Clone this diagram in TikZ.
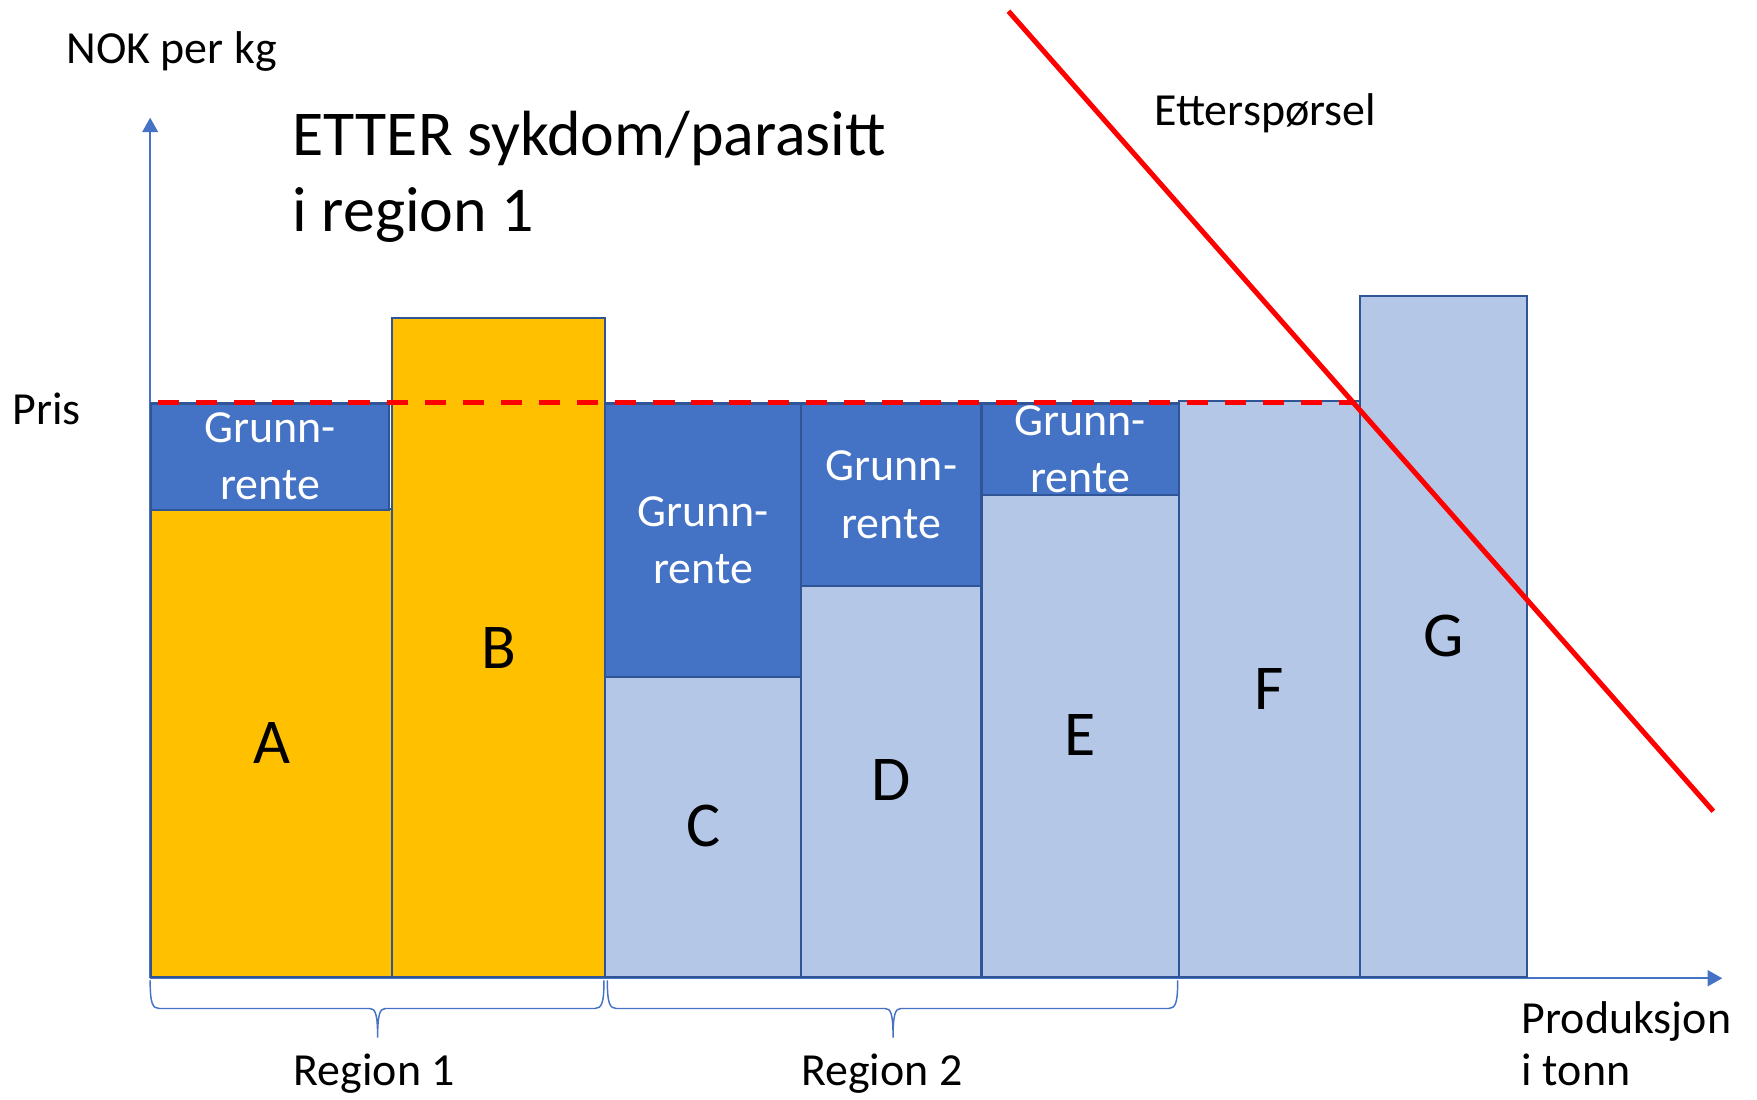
\documentclass[tikz,border=0pt]{standalone}
\usepackage{fontspec}
\setmainfont{Carlito}
\usetikzlibrary{arrows.meta}
\definecolor{gold}{HTML}{FFC000}
\definecolor{rentblue}{HTML}{4472C4}
\definecolor{paleblue}{HTML}{B4C7E7}
\definecolor{edgeblue}{HTML}{2F5597}

\begin{document}
\begin{tikzpicture}[x=1pt,y=-1pt,>={Triangle[length=13pt,width=14pt]},
   axis/.style={draw=rentblue,line width=2pt},
   bar/.style={draw=edgeblue,line width=2pt,inner sep=0pt,anchor=south west,
               font=\fontsize{57}{60}\selectfont},
   rent/.style={bar,fill=rentblue,anchor=north west,text=white,align=center,
                font=\fontsize{41}{51}\selectfont},
   txt/.style={anchor=base west,inner sep=0pt,font=\fontsize{41}{48}\selectfont},
   bigtxt/.style={txt,font=\fontsize{57}{68}\selectfont},
   brace/.style={draw=rentblue,line width=1.3pt}]
   \useasboundingbox (0,0) rectangle (1568,981);

   % axes
   \coordinate (O)    at (134,873);
   \coordinate (ytop) at (134,105);
   \coordinate (xend) at (1537,873);
   \draw[axis,->] (O) -- (ytop);
   \draw[axis,->] (O) -- (xend);

   % region 1
   \node[bar,fill=gold,minimum width=215pt,minimum height=418pt] (A) at (134,873) {A};
   \node[rent,minimum width=212pt,minimum height=95pt]           (rA) at (134,359) {Grunn-\\rente};
   \node[bar,fill=gold,minimum width=190pt,minimum height=588pt] (B) at (349,873) {B};

   % region 2
   \node[bar,fill=paleblue,minimum width=175pt,minimum height=270pt] (C) at (539,873) {C};
   \node[rent,minimum width=175pt,minimum height=244pt]              (rC) at (539,359) {Grunn-\\rente};
   \node[bar,fill=paleblue,minimum width=161pt,minimum height=351pt] (D) at (714,873) {D};
   \node[rent,minimum width=161pt,minimum height=163pt]              (rD) at (714,359) {Grunn-\\rente};
   \node[bar,fill=paleblue,minimum width=176pt,minimum height=432pt] (E) at (875,873) {E};
   \node[rent,minimum width=176pt,minimum height=82pt]               (rE) at (875,359) {Grunn-\\rente};

   % outside
   \node[bar,fill=paleblue,minimum width=162pt,minimum height=514pt] (F) at (1051,873) {F};
   \node[bar,fill=paleblue,minimum width=149pt,minimum height=608pt] (G) at (1213,873) {G};

   % price and demand
   \coordinate (p0) at (141,359);
   \coordinate (eq) at (1209,359);
   \coordinate (d0) at (900,10);
   \coordinate (d1) at (1529,724);
   \draw[red,line width=4.5pt,dash pattern=on 19pt off 15pt] (p0) -- (eq);
   \draw[red,line width=4.5pt] (d0) -- (d1);

   % braces
   \foreach \a/\m/\b in {134/337/539,542/797/1051}
      \draw[brace] (\a,875) .. controls (\a,895) and (\a+2,900) .. (\a+8,900) -- (\m-7,900)
         .. controls (\m-2,900) and (\m,905) .. (\m,926)
         .. controls (\m,905) and (\m+2,900) .. (\m+7,900) -- (\b-8,900)
         .. controls (\b-2,900) and (\b,895) .. (\b,875);

   % texts
   \node[txt]    (nok)    at (59,57)    {NOK per kg};
   \node[bigtxt] (title1) at (261,139)  {ETTER sykdom/parasitt};
   \node[bigtxt] (title2) at (261,207)  {i region 1};
   \node[txt]    (pris)   at (11,379)   {Pris};
   \node[txt]    (dem)    at (1030,112) {Etterspørsel};
   \node[txt]    (prod1)  at (1358,922) {Produksjon};
   \node[txt]    (prod2)  at (1358,969) {i tonn};
   \node[txt,anchor=base] (reg1) at (334,969) {Region 1};
   \node[txt,anchor=base] (reg2) at (787,969) {Region 2};
\end{tikzpicture}
\end{document}
